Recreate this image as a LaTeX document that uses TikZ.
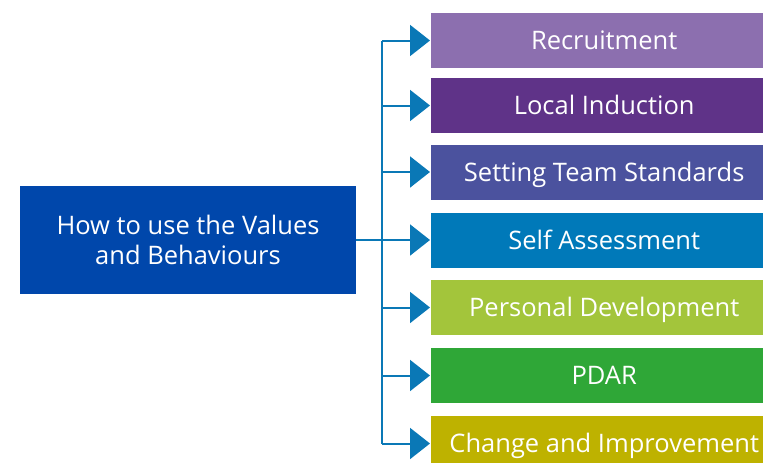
\documentclass[tikz,border=0pt]{standalone}
\usepackage{fontspec}
\setmainfont{Open Sans}
\usetikzlibrary{arrows.meta}
\definecolor{cMain}{HTML}{0047AB}
\definecolor{cBus}{HTML}{0A78B6}
\definecolor{cA}{HTML}{8C6FAF}
\definecolor{cB}{HTML}{5F3388}
\definecolor{cC}{HTML}{4B529E}
\definecolor{cD}{HTML}{0079B9}
\definecolor{cE}{HTML}{A3C53B}
\definecolor{cF}{HTML}{2FA737}
\definecolor{cG}{HTML}{BEB200}
\tikzset{
  itembox/.style={minimum width=346pt, minimum height=55pt, inner sep=0pt, text=white, font=\fontsize{25.5}{29}\selectfont, text height=18.3pt, text depth=0pt, anchor=west},
  mainbox/.style={fill=cMain, minimum width=336pt, minimum height=108pt, inner sep=0pt, text=white, align=center, font=\fontsize{25.5}{29.5}\selectfont},
  conn/.style={draw=cBus, line width=2pt},
  arr/.style={conn, -{Triangle[length=20pt,width=31pt]}, shorten >=1pt}
}
\begin{document}
\begin{tikzpicture}[x=1pt,y=-1pt]
\useasboundingbox (0,0) rectangle (763,463);
\clip (0,0) rectangle (763,463);
\node[mainbox] (main) at (188,240) {How to use the Values\\and Behaviours};
\node[itembox, fill=cA] (b1) at (431,40.5) {Recruitment};
\node[itembox, fill=cB] (b2) at (431,105.5) {Local Induction};
\node[itembox, fill=cC] (b3) at (431,172) {Setting Team Standards};
\node[itembox, fill=cD] (b4) at (431,240) {Self Assessment};
\node[itembox, fill=cE] (b5) at (431,307.5) {Personal Development};
\node[itembox, fill=cF] (b6) at (431,375.5) {PDAR};
\node[itembox, fill=cG] (b7) at (431,443.5) {Change and Improvement};
\coordinate (bus) at (382,0);
\draw[conn] (main.east) -- (main.east -| bus);
\draw[conn] (bus |- b1.west) -- (bus |- b7.west);
\foreach \i in {1,...,7} {
  \draw[arr] (bus |- b\i.west) -- (b\i.west);
}
\end{tikzpicture}
\end{document}
